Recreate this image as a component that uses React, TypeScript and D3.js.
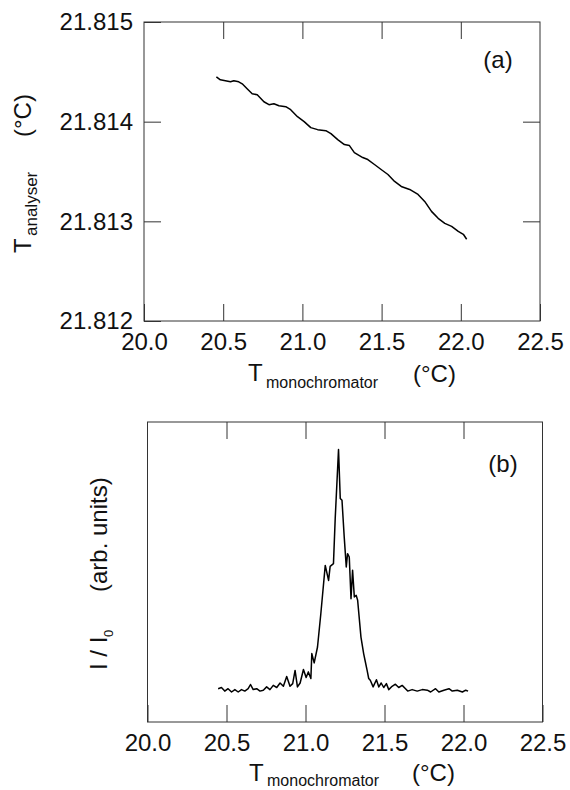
import React, { useEffect, useRef } from "react";
import * as d3 from "d3";

// tick values shared by both panels
const xTicks = [20.0, 20.5, 21.0, 21.5, 22.0, 22.5];
const yTicksA = [21.812, 21.813, 21.814, 21.815];

// panel (a): analyser temperature vs monochromator temperature
const tMonoA = [
  20.457, 20.482, 20.546, 20.567, 20.598, 20.62, 20.651, 20.683, 20.715, 20.757,
  20.789, 20.82, 20.852, 20.895, 20.926, 20.969, 21.011, 21.053, 21.096, 21.148,
  21.18, 21.223, 21.265, 21.297, 21.328, 21.381, 21.413, 21.455, 21.497, 21.54,
  21.582, 21.624, 21.677, 21.73, 21.772, 21.815, 21.857, 21.899, 21.942, 21.984,
  22.016, 22.037,
];
const tAnalyser = [
  21.81445, 21.81442, 21.8144, 21.81441, 21.8144, 21.81438, 21.81433, 21.81428, 21.81427, 21.8142,
  21.81417, 21.81418, 21.81416, 21.81415, 21.81412, 21.81405, 21.814, 21.81394, 21.81392, 21.81391,
  21.81388, 21.81382, 21.81377, 21.81376, 21.81369, 21.81364, 21.81362, 21.81357, 21.81352, 21.81347,
  21.8134, 21.81335, 21.81332, 21.81327, 21.8132, 21.8131, 21.81303, 21.81298, 21.81295, 21.8129,
  21.81287, 21.81282,
];

// panel (b): normalised intensity (arb. units) vs monochromator temperature
const tMonoB = [
  20.447, 20.468, 20.489, 20.51, 20.532, 20.553, 20.574, 20.595, 20.616, 20.637,
  20.652, 20.669, 20.691, 20.712, 20.733, 20.754, 20.775, 20.796, 20.818, 20.839,
  20.86, 20.881, 20.902, 20.919, 20.934, 20.949, 20.966, 20.987, 21.004, 21.018,
  21.034, 21.04, 21.055, 21.076, 21.097, 21.125, 21.146, 21.156, 21.177, 21.188,
  21.209, 21.22, 21.231, 21.245, 21.258, 21.266, 21.277, 21.288, 21.298, 21.309,
  21.321, 21.33, 21.351, 21.368, 21.379, 21.39, 21.4, 21.41, 21.428, 21.449,
  21.464, 21.479, 21.495, 21.512, 21.527, 21.548, 21.569, 21.59, 21.612, 21.633,
  21.647, 21.675, 21.707, 21.739, 21.771, 21.792, 21.823, 21.844, 21.876, 21.908,
  21.929, 21.961, 21.993, 22.014, 22.029,
];
const intensity = [
  0.111, 0.115, 0.103, 0.111, 0.1, 0.108, 0.1, 0.108, 0.103, 0.111,
  0.125, 0.108, 0.111, 0.103, 0.106, 0.117, 0.108, 0.122, 0.115, 0.13,
  0.119, 0.152, 0.119, 0.128, 0.172, 0.117, 0.13, 0.175, 0.148, 0.167,
  0.145, 0.228, 0.197, 0.25, 0.361, 0.522, 0.472, 0.519, 0.528, 0.678,
  0.908, 0.745, 0.739, 0.617, 0.517, 0.561, 0.55, 0.411, 0.506, 0.417,
  0.422, 0.406, 0.283, 0.228, 0.2, 0.172, 0.145, 0.139, 0.117, 0.141,
  0.117, 0.13, 0.115, 0.128, 0.108, 0.119, 0.126, 0.115, 0.122, 0.111,
  0.103, 0.108, 0.103, 0.108, 0.106, 0.1, 0.111, 0.1, 0.106, 0.111,
  0.103, 0.106, 0.1, 0.106, 0.103,
];

const font = "'Liberation Sans', Arial, Helvetica, sans-serif";
const ink = "#333";

function drawPanel(svg, x, y, xs, ys, yTicks) {
  const [x0, x1] = x.range();
  const [y0, y1] = y.range();
  const inner = xTicks.slice(1, -1);

  svg
    .append("rect")
    .attr("x", x0)
    .attr("y", y1)
    .attr("width", x1 - x0)
    .attr("height", y0 - y1)
    .attr("fill", "none")
    .attr("stroke", ink)
    .attr("stroke-width", 1);

  const axes = [];
  axes.push(
    svg
      .append("g")
      .attr("transform", `translate(0, ${y0})`)
      .call(d3.axisBottom(x).tickValues(xTicks).tickSize(-17).tickPadding(12).tickFormat(d3.format(".1f")))
  );
  axes.push(
    svg
      .append("g")
      .attr("transform", `translate(0, ${y1})`)
      .call(d3.axisTop(x).tickValues(inner).tickSize(-17).tickFormat(() => ""))
  );
  if (yTicks) {
    axes.push(
      svg
        .append("g")
        .attr("transform", `translate(${x0}, 0)`)
        .call(d3.axisLeft(y).tickValues(yTicks).tickSize(-17).tickPadding(11).tickFormat(d3.format(".3f")))
    );
    axes.push(
      svg
        .append("g")
        .attr("transform", `translate(${x1}, 0)`)
        .call(d3.axisRight(y).tickValues(yTicks.slice(1, -1)).tickSize(-17).tickFormat(() => ""))
    );
  }
  axes.forEach((g) => {
    g.select(".domain").remove();
    g.selectAll("line").attr("stroke", ink).attr("stroke-width", 1);
    g.selectAll("text").attr("font-size", 24).attr("font-family", font).attr("fill", "#111");
  });

  const line = d3
    .line()
    .x((d) => x(d[0]))
    .y((d) => y(d[1]));

  svg
    .append("path")
    .datum(xs.map((v, i) => [v, ys[i]]))
    .attr("d", line)
    .attr("fill", "none")
    .attr("stroke", "#000")
    .attr("stroke-width", 1.5)
    .attr("stroke-linejoin", "round");
}

function label(svg, txt, x, y, size, rotate = false, anchor = "start") {
  svg
    .append("text")
    .attr("transform", rotate ? `translate(${x}, ${y}) rotate(-90)` : `translate(${x}, ${y})`)
    .attr("font-family", font)
    .attr("font-size", size)
    .attr("text-anchor", anchor)
    .attr("fill", "#111")
    .text(txt);
}

export default function App() {
  const ref = useRef(null);

  useEffect(() => {
    const svg = d3.select(ref.current);
    svg.selectAll("*").remove();

    // (a)
    const xA = d3.scaleLinear().domain([20, 22.5]).range([144, 540]);
    const yA = d3.scaleLinear().domain([21.812, 21.815]).range([321, 22]);
    drawPanel(svg, xA, yA, tMonoA, tAnalyser, yTicksA);
    label(svg, "(a)", 498, 68, 24, false, "middle");
    label(svg, "T", 248, 381, 24);
    label(svg, "monochromator", 266, 388, 16);
    label(svg, "(°C)", 413, 382, 24);
    label(svg, "T", 31, 253, 24, true);
    label(svg, "analyser", 37, 236, 17, true);
    label(svg, "(°C)", 31, 137, 24, true);

    // (b)
    const xB = d3.scaleLinear().domain([20, 22.5]).range([147.5, 542.5]);
    const yB = d3.scaleLinear().domain([0, 1]).range([722, 422]);
    drawPanel(svg, xB, yB, tMonoB, intensity, null);
    label(svg, "(b)", 503, 472, 24, false, "middle");
    label(svg, "T", 249, 781, 24);
    label(svg, "monochromator", 267, 786, 16);
    label(svg, "(°C)", 412, 781, 24);
    label(svg, "I / I", 106.5, 670, 24, true);
    label(svg, "0", 113, 637, 13, true);
    label(svg, "(arb. units)", 106.5, 592, 24, true);
  }, []);

  return (
    <div style={{ position: "absolute", left: 0, top: 0 }}>
      <svg ref={ref} width={570} height={790} style={{ display: "block", background: "#fff" }} />
    </div>
  );
}
